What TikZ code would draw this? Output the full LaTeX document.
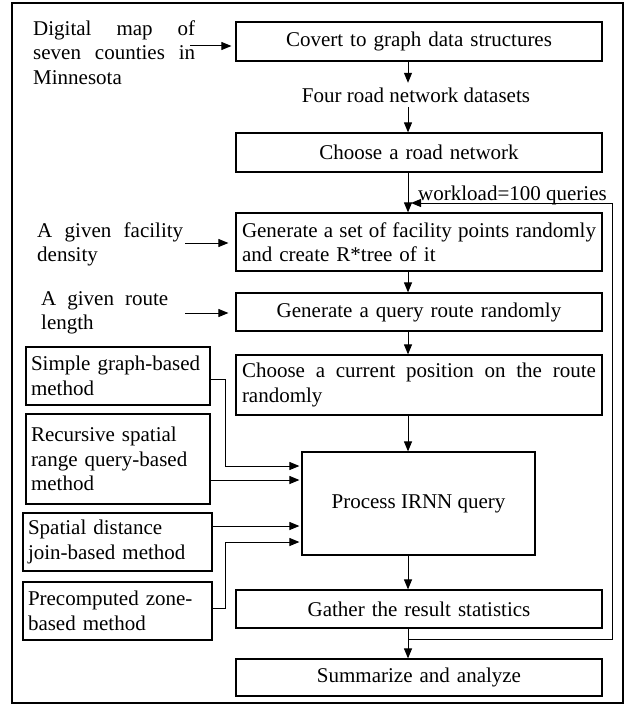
\documentclass[tikz,border=0pt]{standalone}
\usepackage{fontspec}
\setmainfont{Liberation Serif}
\usetikzlibrary{arrows.meta,calc}
\newcommand{\jline}[2]{\makebox[#1][s]{\spaceskip=0pt\xspaceskip=0pt\relax #2}}
\begin{document}
\begin{tikzpicture}[x=1pt,y=-1pt,
  every node/.style={font=\fontsize{21}{24.5}\selectfont},
  mbox/.style={draw, line width=1.2pt, inner xsep=6pt, inner ysep=0pt, text width=354pt},
  lbox/.style={draw, line width=1.2pt, inner xsep=5pt, inner ysep=0pt, align=left},
  freetext/.style={inner sep=0pt, align=left, anchor=north west},
  arr/.style={line width=1pt, -{Triangle[length=10pt,width=8pt]}},
  ln/.style={line width=1pt}]
\useasboundingbox (0,0) rectangle (626,706);
\draw[line width=1.6pt] (12,3) rectangle (623,703);

% main column
\node[mbox, align=center, minimum height=39pt] (b1) at (419,41.5) {Covert to graph data structures};
\node[inner sep=0pt, minimum height=24pt] (ds) at (416,95) {Four road network datasets};
\node[mbox, align=center, minimum height=39pt] (b2) at (419,152.5) {Choose a road network};
\node[mbox, align=left, minimum height=58pt] (b3) at (419,242) {\jline{354pt}{Generate a set of facility points randomly}\\and create R*tree of it};
\node[mbox, align=center, minimum height=38pt] (b4) at (419,312) {Generate a query route randomly};
\node[mbox, align=left, minimum height=60pt] (b5) at (419,385) {\jline{354pt}{Choose a current position on the route}\\randomly};
\node[draw, line width=1.2pt, minimum width=233pt, minimum height=103pt, inner sep=0pt] (b6) at (418.5,503.5) {Process IRNN query};
\node[mbox, align=center, minimum height=38pt] (b7) at (419,609) {Gather the result statistics};
\node[mbox, align=center, minimum height=37pt] (b8) at (419,677.5) {Summarize and analyze};

\node[anchor=base west, inner sep=0pt] (wl) at (418,200.5) {workload=100 queries};

% free texts on the left
\node[freetext, text width=162pt] (dm) at (33,17.9) {\strut\jline{162pt}{Digital map of}\\\jline{162pt}{seven counties in}\\Minnesota};
\node[freetext, text width=146pt] (fd) at (37,219.9) {\strut\jline{146pt}{A given facility}\\density};
\node[freetext, text width=127pt] (rl) at (41,287.9) {\strut\jline{127pt}{A given route}\\length};

% method boxes
\node[lbox, text width=174pt, minimum height=58pt] (s1) at (118,376) {Simple graph-based\\method};
\node[lbox, text width=174pt, minimum height=90pt] (s2) at (118,459) {Recursive spatial\\range query-based\\method};
\node[lbox, text width=179pt, minimum height=58pt] (s3) at (117.5,542) {Spatial distance\\join-based method};
\node[lbox, text width=179pt, minimum height=58pt] (s4) at (117.5,611) {Precomputed zone-\\based method};

% vertical flow
\coordinate (ax) at (408,0);
\draw[arr] (b1.south -| ax) -- (ds.north -| ax);
\draw[arr] (ds.south -| ax) -- (b2.north -| ax);
\draw[arr] (b2.south -| ax) -- (b3.north -| ax);
\draw[arr] (b3.south -| ax) -- (b4.north -| ax);
\draw[arr] (b4.south -| ax) -- (b5.north -| ax);
\draw[arr] (b5.south -| ax) -- (b6.north -| ax);
\draw[arr] (b6.south -| ax) -- (b7.north -| ax);
\draw[arr] (b7.south -| ax) -- (b8.north -| ax);

% loop back
\coordinate (lp) at (408,639);
\coordinate (lr) at (612,0);
\coordinate (lt) at (411,203);
\draw[arr] (lp) -- (lp -| lr) -- (lt -| lr) -- (lt);

% inputs from the left
\coordinate (c1) at (190,46);
\coordinate (c2) at (185,243);
\coordinate (c3) at (185,313);
\draw[arr, shorten >=4pt] (c1) -- (b1.west |- c1);
\draw[arr, shorten >=7pt] (c2) -- (b3.west |- c2);
\draw[arr, shorten >=7pt] (c3) -- (b4.west |- c3);

% method connectors
\coordinate (jx) at (225,0);
\coordinate (y1) at (0,379);
\coordinate (y2) at (0,466);
\coordinate (y3) at (0,480);
\coordinate (y4) at (0,526);
\coordinate (y5) at (0,542);
\coordinate (y6) at (0,608);
\draw[arr, shorten >=2pt] (s1.east |- y1) -- (jx |- y1) -- (jx |- y2) -- (b6.west |- y2);
\draw[arr, shorten >=2pt] (s2.east |- y3) -- (b6.west |- y3);
\draw[arr, shorten >=2pt] (s3.east |- y4) -- (b6.west |- y4);
\draw[arr, shorten >=2pt] (s4.east |- y6) -- (jx |- y6) -- (jx |- y5) -- (b6.west |- y5);
\end{tikzpicture}
\end{document}
